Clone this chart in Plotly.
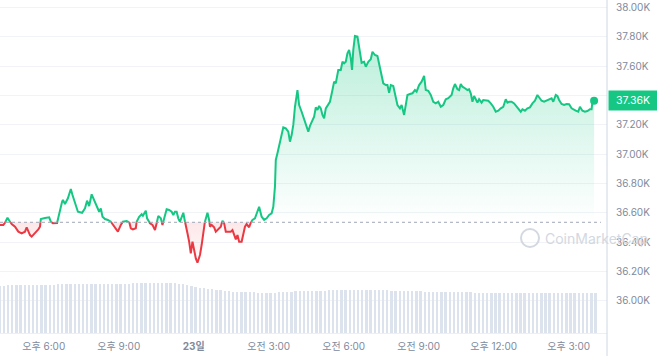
import numpy as np
import pandas as pd
import plotly.graph_objects as go

# ---------------- data ----------------
start = pd.Timestamp("2023-11-22 16:15")

minutes = [0, 8, 12, 18, 24, 28, 36, 44, 52, 60, 64, 72, 76, 84, 92, 96, 98, 108, 118, 122,
           127, 137, 142, 149, 151, 156, 163, 170, 174, 180, 187, 197, 204, 209, 214, 220, 226, 232, 238, 242,
           246, 252, 259, 266, 271, 278, 283, 290, 295, 304, 310, 314, 319, 326, 328, 334, 340, 343, 350, 353,
           360, 366, 372, 376, 380, 386, 390, 394, 400, 406, 412, 416, 420, 424, 428, 432, 436, 440, 444, 446,
           450, 454, 458, 462, 466, 470, 474, 480, 484, 488, 490, 494, 498, 502, 504, 508, 514, 518, 524, 530,
           534, 538, 542, 548, 554, 558, 562, 566, 570, 574, 580, 584, 588, 592, 598, 602, 606, 612, 618, 622,
           628, 634, 640, 646, 652, 656, 660, 662, 666, 670, 676, 680, 686, 692, 696, 700, 704, 708, 714, 718,
           724, 730, 736, 740, 744, 750, 754, 758, 762, 766, 770, 774, 778, 782, 788, 792, 798, 802, 806, 812,
           818, 822, 826, 830, 834, 838, 842, 845, 848, 852, 858, 862, 868, 874, 878, 884, 890, 894, 900, 906,
           910, 916, 920, 926, 930, 934, 938, 944, 948, 954, 960, 964, 970, 974, 978, 984, 990, 996, 1000, 1006,
           1012, 1018, 1022, 1028, 1034, 1040, 1046, 1052, 1058, 1064, 1070, 1076, 1084, 1088, 1092, 1098, 1102, 1106, 1110, 1116,
           1122, 1126, 1130, 1134, 1138, 1142, 1146, 1150, 1156, 1160, 1166, 1172, 1178, 1184, 1190, 1196, 1202, 1208, 1214, 1218,
           1222, 1228, 1234, 1240, 1246, 1250, 1254, 1260, 1266, 1272, 1278, 1284, 1290, 1294, 1300, 1306, 1312, 1318, 1324, 1328,
           1334, 1338, 1342, 1348, 1354, 1360, 1366, 1372, 1378, 1382, 1388, 1392, 1398, 1404, 1410, 1416, 1420, 1422, 1426]

prices = [36517, 36517, 36532, 36566, 36539, 36523, 36505, 36471, 36460, 36471, 36501, 36448, 36437, 36460, 36487, 36505, 36557, 36564, 36569, 36539,
          36528, 36530, 36598, 36675, 36687, 36660, 36699, 36762, 36721, 36665, 36607, 36600, 36630, 36682, 36646, 36726, 36687, 36641, 36607, 36630,
          36573, 36557, 36551, 36539, 36517, 36487, 36471, 36517, 36539, 36544, 36539, 36494, 36487, 36494, 36539, 36573, 36590, 36580, 36614, 36562,
          36528, 36517, 36482, 36528, 36578, 36562, 36517, 36562, 36624, 36619, 36607, 36585, 36607, 36607, 36562, 36539, 36573, 36600, 36539, 36517,
          36460, 36403, 36323, 36403, 36346, 36289, 36259, 36312, 36380, 36460, 36517, 36562, 36600, 36551, 36505, 36517, 36501, 36471, 36487, 36505,
          36546, 36528, 36471, 36471, 36471, 36482, 36448, 36419, 36448, 36403, 36403, 36448, 36505, 36523, 36501, 36532, 36551, 36562, 36607, 36641,
          36573, 36551, 36562, 36585, 36596, 36641, 36778, 36960, 37006, 37062, 37142, 37183, 37176, 37153, 37085, 37130, 37199, 37323, 37437, 37335,
          37289, 37233, 37176, 37153, 37192, 37233, 37255, 37319, 37301, 37328, 37312, 37267, 37244, 37312, 37335, 37357, 37437, 37494, 37483, 37574,
          37574, 37630, 37619, 37630, 37688, 37710, 37653, 37574, 37710, 37805, 37801, 37722, 37623, 37630, 37596, 37630, 37647, 37698, 37676, 37669,
          37619, 37551, 37483, 37471, 37471, 37419, 37471, 37464, 37403, 37335, 37312, 37335, 37267, 37346, 37403, 37410, 37415, 37437, 37426, 37471,
          37494, 37533, 37437, 37432, 37403, 37357, 37346, 37357, 37323, 37335, 37374, 37381, 37403, 37449, 37478, 37442, 37437, 37478, 37460, 37449,
          37437, 37442, 37415, 37357, 37396, 37374, 37351, 37374, 37351, 37369, 37364, 37364, 37346, 37323, 37289, 37296, 37312, 37323, 37374, 37351,
          37357, 37357, 37346, 37323, 37301, 37289, 37306, 37296, 37312, 37319, 37346, 37364, 37403, 37387, 37364, 37357, 37364, 37369, 37381, 37357,
          37403, 37396, 37369, 37342, 37335, 37342, 37340, 37312, 37301, 37296, 37289, 37323, 37296, 37289, 37294, 37306, 37306, 37357, 37364]

baseline_price = 36535  # opening price (dotted reference line)

# 24h volume (billions USD), one bar per 10 minutes from the start
volume = [21.3, 21.3, 21.4, 21.4, 21.4, 21.4, 21.4, 21.5, 21.5, 21.5, 21.5, 21.6, 21.6, 21.8, 22.0,
          22.0, 22.0, 22.0, 22.1, 22.1, 22.1, 22.1, 22.1, 22.1, 22.1, 22.1, 22.1, 22.2, 22.2, 22.2, 22.2, 22.2, 22.3, 22.4,
          22.5, 22.5, 22.5, 22.5, 22.5, 22.5, 22.5, 22.5, 22.4,
          22.2, 21.9, 21.5, 21.1,
          20.6, 20.2, 20.1, 20.0, 19.7,
          19.4, 19.2, 19.0, 18.8,
          18.6, 18.6, 18.6, 18.5, 18.5, 18.4,
          18.1, 17.9, 17.9, 17.9, 18.0,
          18.3, 18.5, 18.6, 18.6, 18.7, 18.7,
          18.8, 18.9, 19.0, 19.0, 19.1, 19.1, 19.2, 19.2, 19.3, 19.3, 19.4, 19.4, 19.4, 19.4, 19.4, 19.4, 19.3, 19.3,
          19.3, 19.2, 19.2, 19.1, 19.1, 19.0, 19.0, 18.9, 18.9, 18.8,
          18.7, 18.6, 18.6, 18.5, 18.5, 18.5, 18.4, 18.4, 18.4, 18.3, 18.3, 18.3, 18.3, 18.2, 18.2, 18.2, 18.2, 18.2,
          18.1, 18.1, 18.1, 18.1, 18.1, 18.1, 18.0, 18.0, 18.0, 18.0, 18.0, 18.0, 18.0, 18.0, 17.9, 17.9, 17.9, 17.9,
          17.9, 17.9, 17.9, 17.9, 17.9, 17.9, 17.9]
volume_step_min = 10

x_tick_times = ["2023-11-22 18:00", "2023-11-22 21:00", "2023-11-23 00:00", "2023-11-23 03:00",
                "2023-11-23 06:00", "2023-11-23 09:00", "2023-11-23 12:00", "2023-11-23 15:00"]
x_tick_text = ["오후 6:00", "오후 9:00", "<b>23일</b>", "오전 3:00", "오전 6:00", "오전 9:00", "오후 12:00", "오후 3:00"]

y_tick_vals = [36000, 36200, 36400, 36600, 36800, 37000, 37200, 37400, 37600, 37800, 38000]
y_tick_text = ["36.00K", "36.20K", "36.40K", "36.60K", "36.80K", "37.00K", "37.20K", "", "37.60K", "37.80K", "38.00K"]

last_label = "37.36K"

# ---------------- styling ----------------
GREEN = "#16c784"
RED = "#ea3943"
AXIS_TXT = "#808a9d"
FONT = "Inter, 'Noto Sans CJK KR', sans-serif"

# ---------------- split line at baseline crossings ----------------
t = np.array(minutes, dtype=float)
p = np.array(prices, dtype=float)
xs, ys = [t[0]], [p[0]]
for i in range(1, len(t)):
    a, b = p[i - 1] - baseline_price, p[i] - baseline_price
    if a * b < 0:
        f = a / (a - b)
        xs.append(t[i - 1] + f * (t[i] - t[i - 1]))
        ys.append(baseline_price)
    xs.append(t[i])
    ys.append(p[i])
xs = np.array(xs)
ys = np.array(ys)
times = start + pd.to_timedelta(xs, unit="min")

green_y = [y if y >= baseline_price else None for y in ys]
red_y = [y if y <= baseline_price else None for y in ys]
up_fill = np.maximum(ys, baseline_price)
dn_fill = np.minimum(ys, baseline_price)
base_arr = np.full(len(ys), baseline_price)

vol_times = start + pd.to_timedelta(np.arange(len(volume)) * volume_step_min, unit="min")

fig = go.Figure()

# volume bars on a hidden overlay axis
fig.add_trace(go.Bar(x=vol_times, y=volume, yaxis="y2", marker=dict(color="#dde3ed", line=dict(width=0)),
                     width=volume_step_min * 60 * 1000 * 0.45, hoverinfo="skip"))

# green fill above baseline
fig.add_trace(go.Scatter(x=times, y=base_arr, mode="lines", line=dict(width=0), hoverinfo="skip"))
fig.add_trace(go.Scatter(x=times, y=up_fill, mode="lines", line=dict(width=0), fill="tonexty",
                         fillgradient=dict(type="vertical", start=baseline_price, stop=max(prices),
                                           colorscale=[[0, "rgba(22,199,132,0.0)"], [1, "rgba(22,199,132,0.30)"]]),
                         hoverinfo="skip"))
# red fill below baseline
fig.add_trace(go.Scatter(x=times, y=base_arr, mode="lines", line=dict(width=0), hoverinfo="skip"))
fig.add_trace(go.Scatter(x=times, y=dn_fill, mode="lines", line=dict(width=0), fill="tonexty",
                         fillgradient=dict(type="vertical", start=min(prices), stop=baseline_price,
                                           colorscale=[[0, "rgba(234,57,67,0.02)"], [1, "rgba(234,57,67,0.12)"]]),
                         hoverinfo="skip"))

# price lines
fig.add_trace(go.Scatter(x=times, y=green_y, mode="lines", line=dict(color=GREEN, width=2), connectgaps=False))
fig.add_trace(go.Scatter(x=times, y=red_y, mode="lines", line=dict(color=RED, width=2), connectgaps=False))

# last point marker
fig.add_trace(go.Scatter(x=[start + pd.Timedelta(minutes=minutes[-1])], y=[prices[-1]], mode="markers",
                         marker=dict(color=GREEN, size=8)))

end_time = start + pd.Timedelta(minutes=1457)

fig.update_layout(
    width=657, height=356,
    margin=dict(l=0, r=50, t=0, b=23),
    paper_bgcolor="white", plot_bgcolor="white",
    showlegend=False,
    font=dict(family=FONT, color=AXIS_TXT, size=10),
    xaxis=dict(type="date", range=[start, end_time], tickvals=x_tick_times, ticktext=x_tick_text,
               showgrid=False, zeroline=False, showline=True, linecolor="#eceff3", linewidth=1,
               ticks="", ticklabelstandoff=4, tickfont=dict(size=10, color=AXIS_TXT, family=FONT)),
    yaxis=dict(side="right", range=[35780, 38051], tickvals=y_tick_vals, ticktext=y_tick_text,
               showgrid=True, gridcolor="#f1f3f6", gridwidth=1, zeroline=False,
               showline=False, ticks="", ticklabelstandoff=8,
               tickfont=dict(size=10, color=AXIS_TXT, family=FONT)),
    yaxis2=dict(overlaying="y", range=[0, 150], visible=False),
    bargap=0,
)

# right axis line spanning full height
fig.add_shape(type="line", xref="paper", yref="paper", x0=1, x1=1, y0=-0.08, y1=1,
              line=dict(color="#cfd6e4", width=1))
# dotted opening-price line
fig.add_shape(type="line", xref="paper", yref="y", x0=0, x1=0.99, y0=baseline_price, y1=baseline_price,
              line=dict(color="#9ea6b6", width=1, dash="dot"))

# watermark
fig.add_shape(type="circle", xref="paper", yref="paper",
              x0=521 / 607, x1=539 / 607, y0=1 - 247 / 333, y1=1 - 229 / 333,
              line=dict(color="#d3d8e1", width=2))
fig.add_annotation(xref="paper", yref="paper", x=543 / 607, y=1 - 238 / 333, xanchor="left", yanchor="middle",
                   text="CoinMarketCap", showarrow=False,
                   font=dict(size=14, color="#d3d8e1", family=FONT))

# last price label
fig.add_annotation(xref="paper", yref="y", x=1, y=prices[-1], xanchor="left", yanchor="middle",
                   text=last_label, showarrow=False, bgcolor=GREEN, width=46, height=17,
                   borderpad=1, xshift=1, font=dict(size=10.5, color="white", family=FONT))

fig.write_html("out.html",
               config={"displayModeBar": False},
               post_script="document.body.style.margin='0';document.body.style.padding='0';"
                           "document.documentElement.style.overflow='hidden';")
